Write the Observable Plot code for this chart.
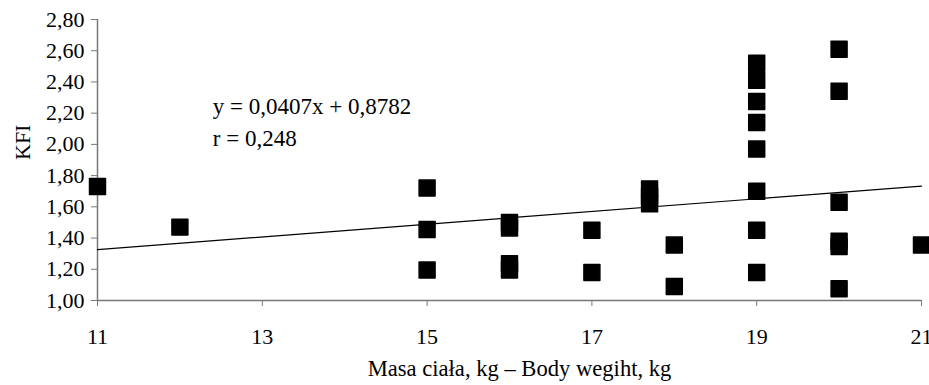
<!DOCTYPE html>
<html>
<head>
<meta charset="utf-8">
<script src="https://cdn.jsdelivr.net/npm/d3@7"></script>
<script src="https://cdn.jsdelivr.net/npm/@observablehq/plot@0.6"></script>
<style>
  html, body { margin: 0; padding: 0; background: #fff; }
  #chart svg { display: block; }
  #chart svg, #chart svg text { font-family: "Liberation Serif", "Times New Roman", serif !important; }
</style>
</head>
<body>
<div id="chart"></div>
<script>
const bodyWeight = [11, 12, 15, 15, 15, 16, 16, 16, 16, 17, 17, 17.7, 17.7, 17.7, 18, 18,
  19, 19, 19, 19, 19, 19, 19, 19, 20, 20, 20, 20, 20, 20, 21];
const kfi = [1.73, 1.47, 1.72, 1.455, 1.195, 1.50, 1.465, 1.235, 1.195, 1.45, 1.18, 1.715, 1.67, 1.62, 1.355, 1.09,
  2.52, 2.41, 2.275, 2.14, 1.97, 1.70, 1.45, 1.18, 2.61, 2.34, 1.63, 1.38, 1.345, 1.075, 1.355];
const xTicks = [11, 13, 15, 17, 19, 21];
const yTicks = [1.0, 1.2, 1.4, 1.6, 1.8, 2.0, 2.2, 2.4, 2.6, 2.8];
const slope = 0.0407, intercept = 0.8782;
const equationLines = ["y = 0,0407x + 0,8782", "r = 0,248"];
const equationY = [2.245, 2.04];
const xLabel = "Masa ciała, kg – Body wegiht, kg";
const yLabel = "KFI";

const points = bodyWeight.map((x, i) => ({x, y: kfi[i]}));
const trend = [11, 21].map(x => ({x, y: slope * x + intercept}));
const eq = equationLines.map((t, i) => ({t, x: 12.4, y: equationY[i]}));
const fmt = d => d.toFixed(2).replace(".", ",");
const serif = "'Liberation Serif', 'Times New Roman', serif";

const chart = Plot.plot({
  width: 929,
  height: 385,
  marginLeft: 97,
  marginRight: 8,
  marginTop: 19,
  marginBottom: 85,
  style: {fontFamily: serif, fontSize: "22px", color: "#000", background: "#fff"},
  x: {domain: [11, 21]},
  y: {domain: [1, 2.8]},
  marks: [
    Plot.axisY({ticks: yTicks, tickFormat: fmt, tickSize: 6, tickPadding: 7, stroke: "#777", fill: "#000", label: null, fontSize: 22, fontFamily: serif}),
    Plot.axisX({ticks: xTicks, tickSize: 6, tickPadding: 22, stroke: "#777", fill: "#000", label: null, fontSize: 22, fontFamily: serif}),
    Plot.ruleX([11], {y1: 1, y2: 2.8, stroke: "#777", strokeWidth: 1.5}),
    Plot.ruleY([1], {x1: 11, x2: 21, stroke: "#777", strokeWidth: 1.5}),
    Plot.line(trend, {x: "x", y: "y", stroke: "#000", strokeWidth: 1.2}),
    Plot.dot(points, {x: "x", y: "y", symbol: "square", r: 9, fill: "#000", stroke: "#000", strokeWidth: 1.5, strokeLinejoin: "round"}),
    Plot.text(eq, {x: "x", y: "y", text: "t", textAnchor: "start", fontSize: 23, fill: "#000", fontFamily: serif}),
    Plot.text([xLabel], {frameAnchor: "bottom", dx: 10, dy: 75, fontSize: 22.6, fill: "#000", fontFamily: serif}),
    Plot.text([yLabel], {frameAnchor: "left", dx: -75, rotate: -90, fontSize: 22, fill: "#000", fontFamily: serif})
  ]
});
document.getElementById("chart").appendChild(chart);
</script>
</body>
</html>
